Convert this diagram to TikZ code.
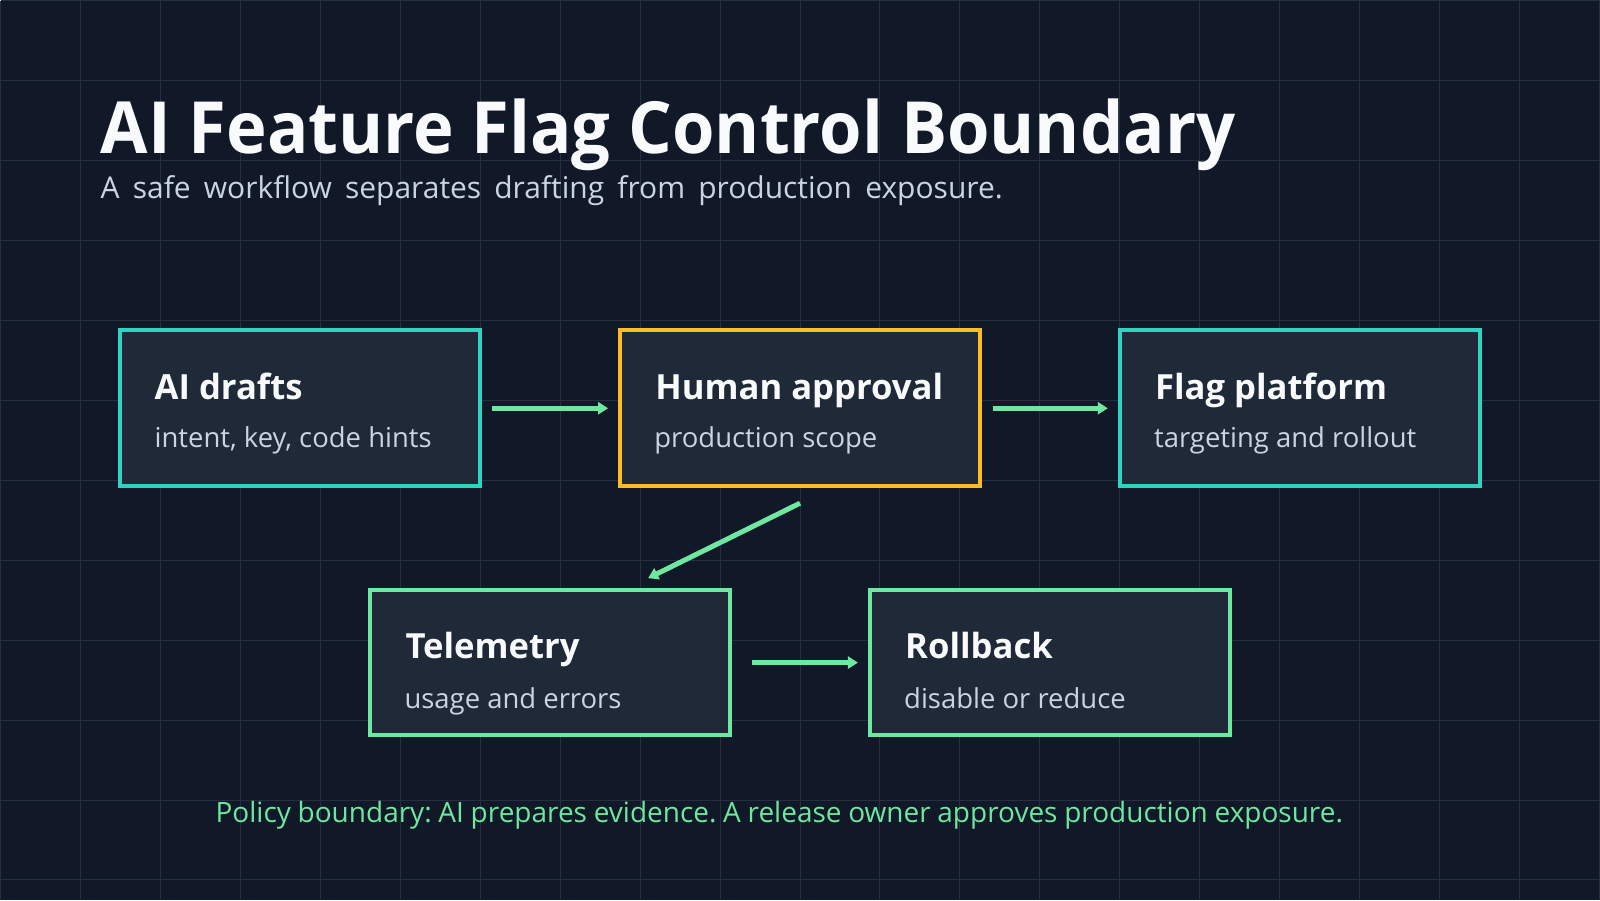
\documentclass[tikz,border=0pt]{standalone}
\usepackage{fontspec}
\setmainfont{Open Sans}
\newfontfamily\titlefont{Open Sans}[FakeStretch=0.955]
\usetikzlibrary{arrows.meta,calc}
\definecolor{bg}{HTML}{111827}
\definecolor{gridc}{HTML}{242F41}
\definecolor{boxfill}{HTML}{1F2937}
\definecolor{tealc}{HTML}{2DD4BF}
\definecolor{amberc}{HTML}{FBBF24}
\definecolor{mint}{RGB}{110,231,160}
\definecolor{titlec}{HTML}{F8FAFC}
\definecolor{subc}{HTML}{CBD5E1}
\begin{document}
\frenchspacing
\begin{tikzpicture}[x=0.75pt,y=-0.75pt,
  card/.style={draw, fill=boxfill, line width=3pt, minimum width=270pt, inner sep=0pt},
  toprow/.style={minimum height=117pt},
  botrow/.style={minimum height=108.75pt},
  ctitle/.style={anchor=base west, inner sep=0pt, text=titlec, font=\fontsize{26}{30}\selectfont\bfseries},
  csub/.style={anchor=base west, inner sep=0pt, text=subc, font=\fontsize{20.6}{24}\selectfont},
  flow/.style={draw=mint, line width=3.75pt, -{Triangle[length=7.5pt,width=9pt]}},
]
\fill[bg] (0,0) rectangle (1600,900);
\foreach \x in {0,80,...,1600} \draw[gridc, line width=0.75pt] (\x,0) -- (\x,900);
\foreach \y in {0,80,...,880} \draw[gridc, line width=0.75pt] (0,\y) -- (1600,\y);
\useasboundingbox (0,0) rectangle (1600,900);

\node[anchor=base west, inner sep=0pt, text=titlec, font=\titlefont\fontsize{54}{60}\selectfont\bfseries] (title) at (100,153) {AI Feature Flag Control Boundary};
\node[anchor=base west, inner sep=0pt, text=subc, font=\fontsize{22.5}{26}\selectfont] (subtitle) at (100,198) {\makebox[677pt][s]{A safe workflow separates drafting from production exposure.}};

\node[card, toprow, draw=tealc] (ai) at (300,408) {};
\node[card, toprow, draw=amberc] (human) at (800,408) {};
\node[card, toprow, draw=tealc] (flag) at (1300,408) {};
\node[card, botrow, draw=mint] (tele) at (550,662.5) {};
\node[card, botrow, draw=mint] (roll) at (1050,662.5) {};

\node[ctitle] (ait) at (154,399) {AI drafts};
\node[csub] (ais) at (154,447) {intent, key, code hints};
\node[ctitle] (humant) at (655,399) {Human approval};
\node[csub] (humans) at (654,447) {production scope};
\node[ctitle] (flagt) at (1155,399) {Flag platform};
\node[csub] (flags) at (1154,447) {targeting and rollout};
\node[ctitle] (telet) at (405,658) {Telemetry};
\node[csub] (teles) at (404,708) {usage and errors};
\node[ctitle] (rollt) at (905,658) {Rollback};
\node[csub] (rolls) at (904,708) {disable or reduce};

\coordinate (d1) at ($(human.south)+(0,15)$);
\coordinate (d2) at ($(tele.north west)+(280,-10)$);

\draw[flow, shorten <=7.5pt, shorten >=7.5pt] (ai.east) -- (human.west);
\draw[flow, shorten <=8pt, shorten >=7.5pt] (human.east) -- (flag.west);
\draw[flow] (d1) -- (d2);
\draw[flow, shorten <=15pt, shorten >=7.5pt] (tele.east) -- (roll.west);

\node[anchor=base west, inner sep=0pt, text=mint, font=\fontsize{21}{24}\selectfont] (policy) at (215,822) {\makebox[846pt][s]{Policy boundary: AI prepares evidence. A release owner approves production exposure.}};
\end{tikzpicture}
\end{document}
